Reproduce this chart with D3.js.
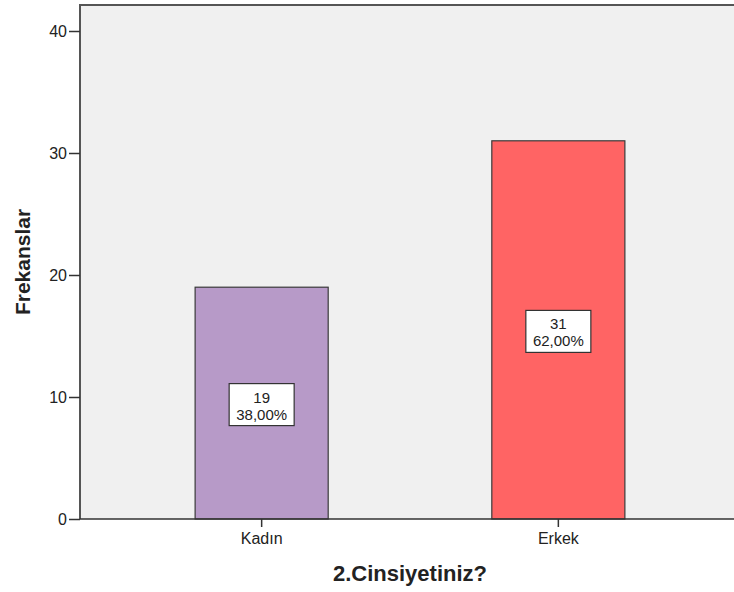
<!DOCTYPE html>
<html><head><meta charset="utf-8">
<script src="https://cdn.jsdelivr.net/npm/d3@7"></script>
<style>body{margin:0;background:#fff}svg{display:block}text{font-family:"Liberation Sans",Arial,sans-serif}</style>
</head><body>
<svg id="c" width="734" height="592"></svg>
<script>
const categories = ["Kadın", "Erkek"];
const counts = [19, 31];
const percents = ["38,00%", "62,00%"];
const colors = ["#b79ac8", "#ff6464"];
const yTicks = [0, 10, 20, 30, 40];
const xTitle = "2.Cinsiyetiniz?";
const yTitle = "Frekanslar";

const svg = d3.select("#c");
const L = 80, R = 740, T = 5, B = 519;
const x = d3.scaleBand().domain(categories).range([L, R]).paddingInner(0.5515).paddingOuter(0.388);
const y = d3.scaleLinear().domain([0, 40]).range([B, 31]);
const FF = '"Liberation Sans",Arial,sans-serif';

svg.append("rect").attr("x", L).attr("y", T).attr("width", R - L).attr("height", B - T)
  .attr("fill", "#f0f0f0");

svg.selectAll("rect.bar").data(categories).enter().append("rect").attr("class", "bar")
  .attr("x", d => x(d)).attr("width", x.bandwidth())
  .attr("y", (d, i) => y(counts[i])).attr("height", (d, i) => B - y(counts[i]))
  .attr("fill", (d, i) => colors[i]).attr("stroke", "#3a3a3a").attr("stroke-width", 1.2);

// frame
svg.append("path").attr("d", `M${L},${B}V${T}H${R}`).attr("fill", "none").attr("stroke", "#555").attr("stroke-width", 2);
svg.append("line").attr("x1", L).attr("x2", R).attr("y1", B).attr("y2", B).attr("stroke", "#333").attr("stroke-width", 1.5);

const ya = svg.append("g").attr("transform", `translate(${L},0)`)
  .call(d3.axisLeft(y).tickValues(yTicks).tickSize(11).tickPadding(2));
ya.select(".domain").remove();
ya.selectAll(".tick line").attr("stroke", "#333").attr("stroke-width", 1.5);
ya.selectAll(".tick text").attr("font-size", 16).attr("fill", "#222").style("font-family", FF);

const xa = svg.append("g").attr("transform", `translate(0,${B})`)
  .call(d3.axisBottom(x).tickSize(8).tickPadding(6));
xa.select(".domain").remove();
xa.selectAll(".tick line").attr("stroke", "#333").attr("stroke-width", 1.5);
xa.selectAll(".tick text").attr("font-size", 16).attr("fill", "#222").style("font-family", FF);

// value labels
const lab = svg.selectAll("g.lab").data(categories).enter().append("g").attr("class", "lab")
  .attr("transform", (d, i) => `translate(${x(d) + x.bandwidth() / 2},${y(counts[i] / 2)})`);
lab.append("rect").attr("x", -32.5).attr("y", -19.5).attr("width", 65).attr("height", 42)
  .attr("fill", "#fff").attr("stroke", "#333").attr("stroke-width", 1.2);
lab.append("text").attr("text-anchor", "middle").attr("y", -0.5).attr("font-size", 15).attr("fill", "#222")
  .text((d, i) => counts[i]);
lab.append("text").attr("text-anchor", "middle").attr("y", 16.5).attr("font-size", 15).attr("fill", "#222")
  .text((d, i) => percents[i]);

svg.append("text").attr("x", (L + R) / 2).attr("y", 581).attr("text-anchor", "middle")
  .attr("font-size", 22).attr("font-weight", "bold").attr("fill", "#222").text(xTitle);
svg.append("text").attr("transform", `translate(30,${(T + B) / 2}) rotate(-90)`).attr("text-anchor", "middle")
  .attr("font-size", 21).attr("font-weight", "bold").attr("fill", "#222").text(yTitle);
</script>
</body></html>
